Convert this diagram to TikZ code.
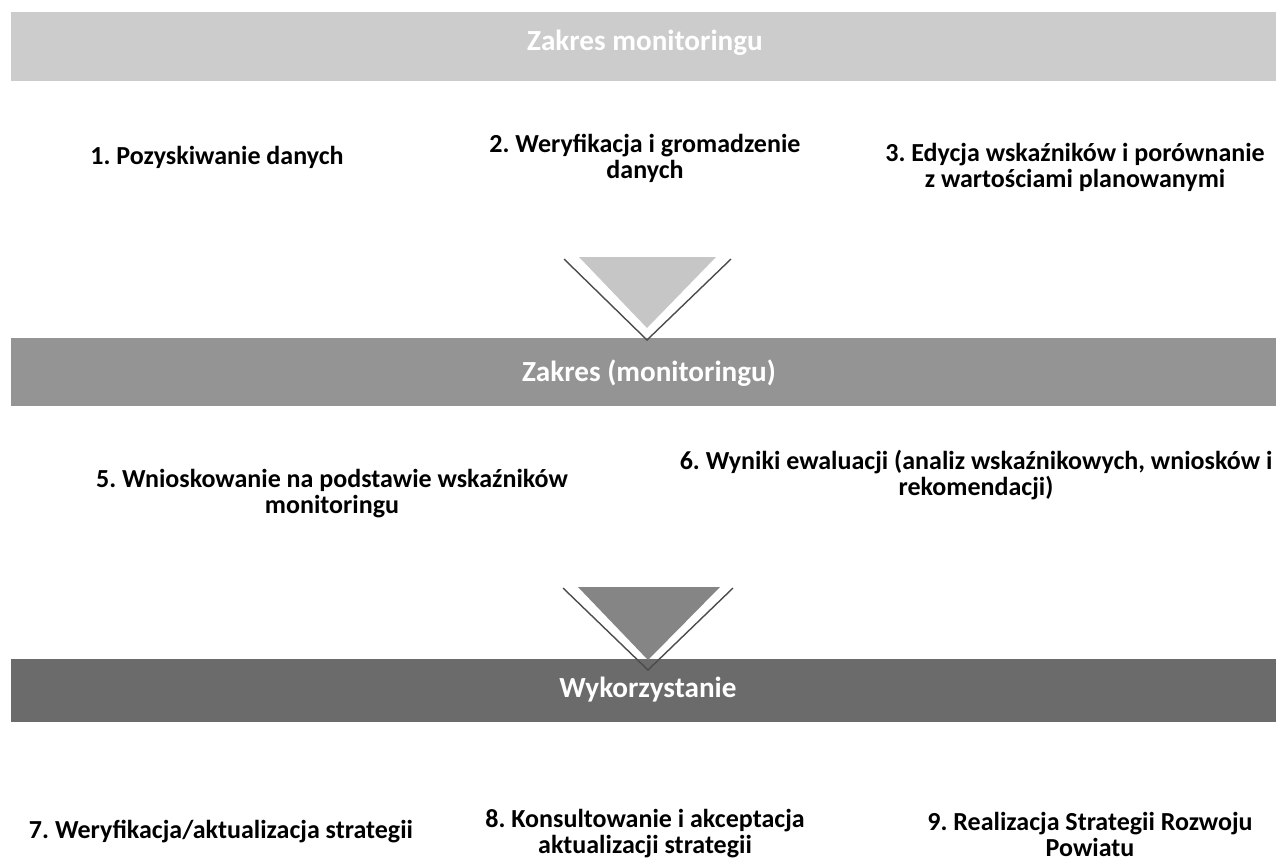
\documentclass[tikz,border=0pt]{standalone}
\usepackage{fontspec}
\setmainfont{Carlito}
\usetikzlibrary{calc}

\definecolor{bandA}{gray}{0.80}
\definecolor{bandB}{gray}{0.58}
\definecolor{bandC}{gray}{0.42}

\begin{document}
\frenchspacing
\begin{tikzpicture}[every node/.style={align=center, font=\bfseries\fontsize{14.8}{14.8}\selectfont},
  bandtext/.style={text=white, font=\bfseries\fontsize{16.6}{19}\selectfont}]

  \useasboundingbox (0,0) rectangle (25.52,-17.22);

  % bands
  \fill [bandA] (0.22,-0.24) rectangle (25.52,-1.62);
  \node [bandtext] at (12.9,-0.86) (z1) {Zakres monitoringu};

  \fill [bandB] (0.22,-6.76) rectangle (25.52,-8.12);
  \node [bandtext] at (12.98,-7.46) (z2) {Zakres (monitoringu)};

  \fill [bandC] (0.22,-13.18) rectangle (25.52,-14.44);
  \node [bandtext] at (12.96,-13.8) (z3) {Wykorzystanie};

  % chevrons
  \fill [gray!45] (11.58,-5.14) -- (14.32,-5.14) -- (12.94,-6.56) -- cycle;
  \draw [black!70, thick] (11.28,-5.18) -- (12.94,-6.8) -- (14.62,-5.18);

  \fill [bandB!90!black] (11.56,-11.74) -- (14.4,-11.74) -- (12.96,-13.2) -- cycle;
  \draw [black!70, thick] (11.26,-11.76) -- (12.96,-13.4) -- (14.66,-11.76);

  % steps
  \node at (4.34,-3.14) (s1) {1. Pozyskiwanie danych};
  \node at (12.9,-3.16) (s2) {2. Weryfikacja i gromadzenie\\danych};
  \node at (21.5,-3.34) (s3) {3. Edycja wskaźników i porównanie\\z wartościami planowanymi};

  \node at (6.64,-9.88) (s5) {5. Wnioskowanie na podstawie wskaźników\\monitoringu};
  \node at (19.52,-9.5) (s6) {6. Wyniki ewaluacji (analiz wskaźnikowych, wniosków i\\rekomendacji)};

  \node at (4.42,-16.64) (s7) {7. Weryfikacja/aktualizacja strategii};
  \node at (12.9,-16.68) (s8) {8. Konsultowanie i akceptacja\\aktualizacji strategii};
  \node at (21.8,-16.68) (s9) {9. Realizacja Strategii Rozwoju\\Powiatu};

\end{tikzpicture}
\end{document}
